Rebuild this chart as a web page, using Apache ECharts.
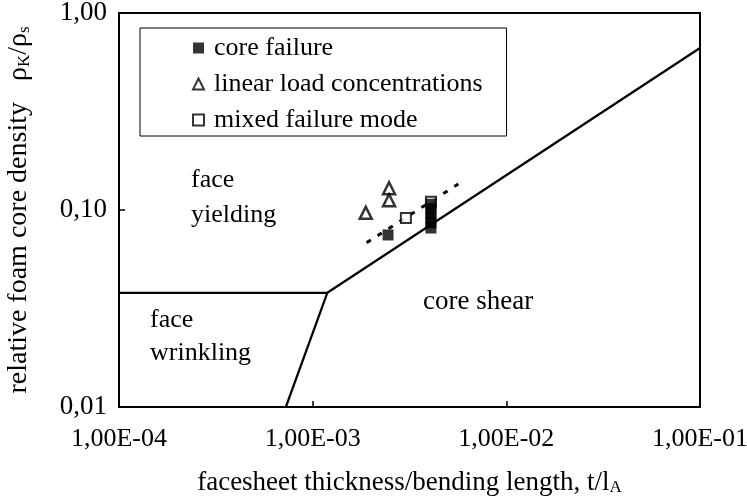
<!DOCTYPE html>
<html>
<head>
<meta charset="utf-8">
<script src="https://cdn.jsdelivr.net/npm/echarts@6/dist/echarts.min.js"></script>
<style>
html, body { margin: 0; background: #fff; }
#main { width: 747px; height: 500px; }
</style>
</head>
<body>
<div id="main"></div>
<script>
// failure mode map
var xTicks = [1e-4, 1e-3, 1e-2, 1e-1];
var yTicks = [0.01, 0.1, 1];

// region borders
var yieldShearX = [1e-4, 1.19e-3, 0.1];
var yieldShearY = [0.038, 0.038, 0.664];
var wrinkleX = [7.27e-4, 1.19e-3];
var wrinkleY = [0.01, 0.038];

// dotted trend
var trendX = [1.9e-3, 5.65e-3];
var trendY = [0.0683, 0.1355];

// test points
var coreX = [2.45e-3, 4.08e-3, 4.08e-3, 4.08e-3, 4.08e-3, 4.08e-3, 4.08e-3];
var coreY = [0.0747, 0.081, 0.086, 0.091, 0.096, 0.102, 0.107];
var linearX = [1.88e-3, 2.48e-3, 2.48e-3];
var linearY = [0.0967, 0.129, 0.112];
var mixedX = [3.03e-3, 4.08e-3];
var mixedY = [0.091, 0.11];

var font = "Liberation Serif";
var fs = 26;

function pairs(xs, ys) {
  return xs.map(function (x, i) { return [x, ys[i]]; });
}

var subStyle = { fontFamily: font, fontSize: 17, verticalAlign: "bottom", padding: [9, 0, 0, 0], lineHeight: 17 };

var chart = echarts.init(document.getElementById("main"));

var option = {
  animation: false,
  textStyle: { fontFamily: font, color: "#000" },
  grid: {
    left: 119, right: 47, top: 13, bottom: 93,
    containLabel: false,
    outerBoundsMode: "none",
    show: true, borderColor: "#000", borderWidth: 2
  },
  legend: {
    orient: "vertical",
    left: 140, top: 28,
    borderColor: "#000", borderWidth: 1,
    padding: [7, 24, 3, 52],
    itemGap: 10,
    itemWidth: 11, itemHeight: 11,
    textStyle: { fontFamily: font, fontSize: fs, color: "#000", padding: [0, 0, 0, 5] },
    data: [
      { name: "core failure", icon: "rect" },
      { name: "linear load concentrations", icon: "triangle" },
      { name: "mixed failure mode", icon: "rect" }
    ]
  },
  xAxis: {
    type: "log",
    logBase: 10,
    min: xTicks[0],
    max: xTicks[xTicks.length - 1],
    name: "facesheet thickness/bending length, t/l{sub|A}",
    nameLocation: "middle",
    nameGap: 62,
    nameTextStyle: { fontFamily: font, fontSize: 27, color: "#000", rich: { sub: subStyle } },
    axisLine: { lineStyle: { color: "#000", width: 2 } },
    axisTick: { inside: true, length: 6, lineStyle: { color: "#000", width: 1.5 } },
    minorTick: { show: false },
    splitLine: { show: false },
    axisLabel: {
      fontFamily: font, fontSize: fs, color: "#000", margin: 19,
      formatter: function (v) {
        var e = Math.round(Math.log10(v));
        var s = String(Math.abs(e));
        if (s.length < 2) s = "0" + s;
        return "1,00E" + (e < 0 ? "-" : "+") + s;
      }
    }
  },
  yAxis: {
    type: "log",
    logBase: 10,
    min: yTicks[0],
    max: yTicks[yTicks.length - 1],
    name: "relative foam core density   \u03c1{sub|K}/\u03c1{sub|s}",
    nameLocation: "middle",
    nameGap: 86,
    nameTextStyle: { fontFamily: font, fontSize: 28, color: "#000", rich: { sub: subStyle } },
    axisLine: { lineStyle: { color: "#000", width: 2 } },
    axisTick: { inside: true, length: 6, lineStyle: { color: "#000", width: 1.5 } },
    minorTick: { show: false },
    splitLine: { show: false },
    axisLabel: {
      fontFamily: font, fontSize: 27, color: "#000", margin: 12,
      formatter: function (v) { return v.toFixed(2).replace(".", ","); }
    }
  },
  graphic: [
    { type: "text", left: 191, top: 163, style: { text: "face\nyielding", font: fs + "px " + font, fill: "#000", lineHeight: 35 } },
    { type: "text", left: 150, top: 304, style: { text: "face\nwrinkling", font: fs + "px " + font, fill: "#000", lineHeight: 33 } },
    { type: "text", left: 423, top: 288, style: { text: "core shear", font: "27px " + font, fill: "#000" } }
  ],
  series: [
    {
      name: "border1", type: "line", data: pairs(yieldShearX, yieldShearY),
      symbol: "none", lineStyle: { color: "#000", width: 2.2 }, z: 2
    },
    {
      name: "border2", type: "line", data: pairs(wrinkleX, wrinkleY),
      symbol: "none", lineStyle: { color: "#000", width: 2.2 }, z: 2
    },
    {
      name: "trend", type: "line", data: pairs(trendX, trendY),
      symbol: "none", lineStyle: { color: "#000", width: 3, type: [5, 8] }, z: 2
    },
    {
      name: "mixed failure mode", type: "scatter", data: pairs(mixedX, mixedY),
      symbol: "rect", symbolSize: 10,
      itemStyle: { color: "#fff", borderColor: "#000", borderWidth: 2 }, z: 3
    },
    {
      name: "core failure", type: "scatter", data: pairs(coreX, coreY),
      symbol: "rect", symbolSize: 11,
      itemStyle: { color: "#000" }, z: 4
    },
    {
      name: "linear load concentrations", type: "scatter", data: pairs(linearX, linearY),
      symbol: "triangle", symbolSize: 12,
      itemStyle: { color: "#fff", borderColor: "#000", borderWidth: 2.5 }, z: 5
    }
  ]
};

chart.setOption(option);
</script>
</body>
</html>
